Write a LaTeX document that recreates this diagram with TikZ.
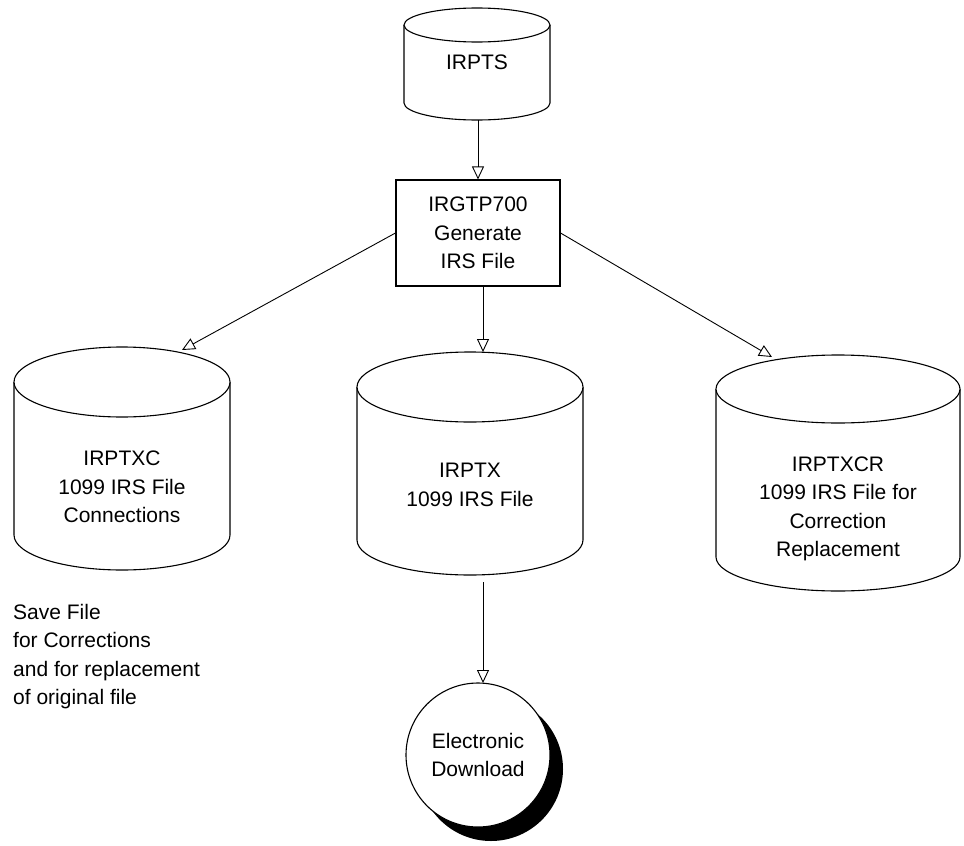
\documentclass[tikz,border=0pt]{standalone}
\usepackage{fontspec}
\setmainfont{Liberation Sans}
\usetikzlibrary{arrows.meta}
\tikzset{
  shapeline/.style={line width=1.1pt, draw=black},
  arr/.style={line width=0.9pt, -{Triangle[open, length=13pt, width=12pt, line width=0.9pt]}},
  txt/.style={align=center, inner sep=0pt, font=\fontsize{21}{28.5}\selectfont},
}
\newcommand\dbcyl[5]{% cx, top ellipse center y, rx, ry, bottom ellipse center y
  \draw[shapeline, fill=white] (#1-#3,#2) -- (#1-#3,#5)
    arc[start angle=180, end angle=0, x radius=#3, y radius=#4] -- (#1+#3,#2);
  \draw[shapeline, fill=white] (#1,#2) ellipse[x radius=#3, y radius=#4];
}
\begin{document}
\begin{tikzpicture}[x=1pt,y=-1pt]
\useasboundingbox (0,0) rectangle (964,846);
% cylinders
\dbcyl{477}{25}{73}{17}{103}
\node[txt] (irpts) at (477,62) {IRPTS};
\dbcyl{122}{382}{108}{35}{535}
\node[txt] (irptxc) at (122,487) {IRPTXC\\1099 IRS File\\Connections};
\dbcyl{470}{387}{113}{35}{540}
\node[txt] (irptx) at (470,485) {IRPTX\\1099 IRS File};
\dbcyl{838}{389}{122}{34}{557}
\node[txt] (irptxcr) at (838,509) {IRPTXCR\\1099 IRS File for\\Correction\\Replacement};
% process box
\node[txt, draw, line width=1.1pt, minimum width=164pt, minimum height=106pt] (gen) at (478,233) {IRGTP700\\Generate\\IRS File};
% download circle with shadow
\fill[black] (491,769) circle[radius=72];
\node[txt, circle, draw, line width=1.1pt, fill=white, minimum size=144pt] (dl) at (478,755) {Electronic\\Download};
% note
\node[txt, align=left, anchor=north west] (note) at (13,604) {Save File\\for Corrections\\and for replacement\\of original file};
% connector end points
\coordinate (irptsB) at (478,120);
\coordinate (genB) at (483,286);
\coordinate (irptxT) at (483,352);
\coordinate (irptxcT) at (182,350);
\coordinate (irptxcrT) at (772,357);
\coordinate (irptxB) at (483,582);
\coordinate (dlT) at (483,683);
% connectors
\draw[arr] (irptsB) -- (gen.north);
\draw[arr] (gen.west) -- (irptxcT);
\draw[arr] (genB) -- (irptxT);
\draw[arr] (gen.east) -- (irptxcrT);
\draw[arr] (irptxB) -- (dlT);
\end{tikzpicture}
\end{document}
